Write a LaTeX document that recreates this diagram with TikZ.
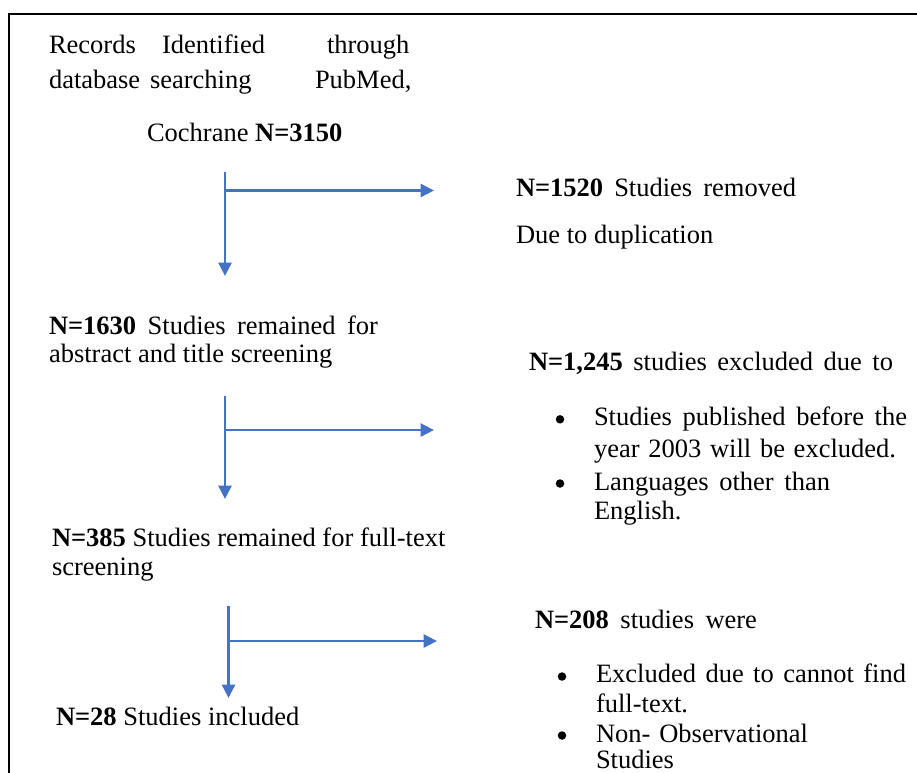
\documentclass[tikz,border=0pt]{standalone}
\usepackage{fontspec}
\setmainfont{Liberation Serif}
\usetikzlibrary{arrows.meta}
\definecolor{arrowblue}{HTML}{4472C4}
\tikzset{
  txt/.style={anchor=base west, inner sep=0pt, outer sep=0pt, font=\fontsize{26.5}{32}\selectfont},
  flow/.style={draw=arrowblue, line width=2.9pt, -{Triangle[length=13.5pt,width=13pt]}},
  dot/.style={circle, fill=black, inner sep=0pt, minimum size=8.5pt},
  frame/.style={draw=black, line width=2.2pt}
}
\newcommand{\jl}[2]{\makebox[#1pt][s]{#2}}
\begin{document}
\begin{tikzpicture}[x=1pt,y=-1pt]
\useasboundingbox (0,0) rectangle (917,772);
% frame (top and left edges)
\coordinate (fTL) at (9,14.3);
\coordinate (fTR) at (918,14.3);
\coordinate (fBL) at (9,773);
\draw[frame] (fTR) -- (fTL) -- (fBL);

% left column
\node[txt] (l1a) at (49,53.3) {Records};
\node[txt] (l1b) at (162,53.3) {Identified};
\node[txt] (l1c) at (327,53.3) {through};
\node[txt] (l2a) at (49,88) {database};
\node[txt] (l2b) at (150,88) {searching};
\node[txt] (l2c) at (315,88) {PubMed,};
\node[txt] (l3) at (147,141.5) {Cochrane \textbf{N=3150}};
\node[txt] (l4) at (49,334) {\jl{329}{\textbf{N=1630} Studies remained for}};
\node[txt] (l5) at (49,362.5) {abstract and title screening};
\node[txt] (l6) at (52,546) {\textbf{N=385} Studies remained for full-text};
\node[txt] (l7) at (52,575) {screening};
\node[txt] (l8) at (56,725) {\textbf{N=28} Studies included};

% right column
\node[txt] (r1) at (516,196) {\jl{280}{\textbf{N=1520} Studies removed}};
\node[txt] (r2) at (516,243.5) {Due to duplication};
\node[txt] (r3) at (529,370.5) {\jl{364}{\textbf{N=1,245} studies excluded due to}};
\node[dot] (b1) at (560,419.3) {};
\node[txt] (r4) at (594,425.7) {\jl{313}{Studies published before the}};
\node[txt] (r5) at (594,457.5) {\jl{302}{year 2003 will be excluded.}};
\node[dot] (b2) at (560,483.5) {};
\node[txt] (r6) at (594,490) {\jl{236}{Languages other than}};
\node[txt] (r7) at (594,519) {English.};
\node[txt] (r8) at (535,628.5) {\jl{222}{\textbf{N=208} studies were}};
\node[dot] (b3) at (562,676.5) {};
\node[txt] (r9) at (596,682.5) {\jl{310}{Excluded due to cannot find}};
\node[txt] (r10) at (596,712.5) {full-text.};
\node[dot] (b4) at (562,735.5) {};
\node[txt] (r11) at (596,742) {\jl{212}{Non- Observational}};
\node[txt] (r12) at (596,768.5) {Studies};

% arrows
\coordinate (a1top) at (225,172);
\coordinate (a1bot) at (225,276);
\coordinate (a1mid) at (225,190.5);
\coordinate (a1end) at (434,190.5);
\draw[flow] (a1top) -- (a1bot);
\draw[flow] (a1mid) -- (a1end);

\coordinate (a2top) at (225,396);
\coordinate (a2bot) at (225,499);
\coordinate (a2mid) at (225,430);
\coordinate (a2end) at (434,430);
\draw[flow] (a2top) -- (a2bot);
\draw[flow] (a2mid) -- (a2end);

\coordinate (a3top) at (228.5,606);
\coordinate (a3bot) at (228.5,698);
\coordinate (a3mid) at (228.5,641);
\coordinate (a3end) at (437,641);
\draw[flow] (a3top) -- (a3bot);
\draw[flow] (a3mid) -- (a3end);
\end{tikzpicture}
\end{document}
